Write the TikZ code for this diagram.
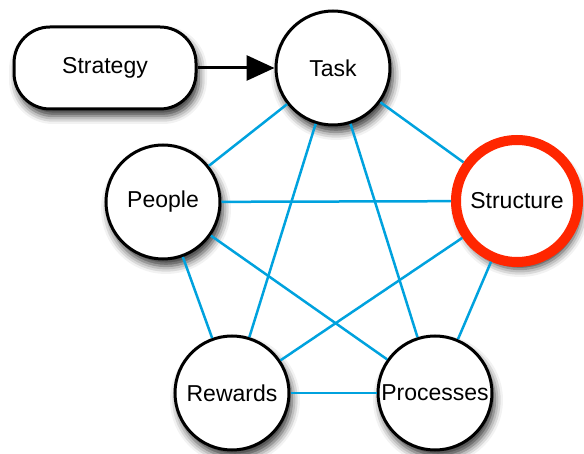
\documentclass[tikz,border=0pt]{standalone}
\usepackage{fontspec}
\setmainfont{Liberation Sans}
\usetikzlibrary{positioning,arrows.meta,shadows.blur}
\definecolor{linkblue}{RGB}{0,162,222}
\definecolor{ringred}{RGB}{255,38,0}
\tikzstyle{black state}=[
        draw = black,
        line width = 3pt,
        fill = white,
        minimum size = 114pt,
        inner sep = 0pt,
        circle,
        blur shadow = {shadow xshift=3pt, shadow yshift=-7pt, shadow blur radius=8pt, shadow opacity=80}
    ]
\tikzstyle{red state}=[
    draw = ringred,
    line width = 10pt,
    fill = white,
    minimum size = 122pt,
    inner sep = 0pt,
    circle,
    blur shadow = {shadow xshift=3pt, shadow yshift=-7pt, shadow blur radius=8pt, shadow opacity=80}
]
\tikzstyle{strategy box}=[
    draw = black,
    line width = 3pt,
    fill = white,
    rounded corners = 36pt,
    minimum width = 182pt,
    minimum height = 82pt,
    blur shadow = {shadow xshift=3pt, shadow yshift=-7pt, shadow blur radius=8pt, shadow opacity=80}
]
\tikzstyle{link}=[draw = linkblue, line width = 2.5pt]

\begin{document}
\begin{tikzpicture}[x=1pt, y=-1pt, on grid, font=\fontsize{23}{27}\selectfont]
        \useasboundingbox (0,0) rectangle (584,454);

        \node[black state] (task) at (333,68) {Task};
        \node[strategy box] (strategy) [left = 228pt of task] {Strategy};
        \node[black state] (people) [below left = 134pt and 170pt of task] {People};
        \node[red state] (structure) [below right = 133pt and 184pt of task] {Structure};
        \node[black state] (rewards) [below right = 191pt and 69pt of people] {Rewards};
        \node[black state] (processes) [right = 203pt of rewards] {Processes};

        \draw[-{Triangle[length=28pt,width=25pt]}, line width=3pt] (strategy) -- (task);

        % links
        \draw[link] (task) -- (people);
        \draw[link] (task) -- (structure);
        \draw[link] (task) -- (rewards);
        \draw[link] (task) -- (processes);
        \draw[link] (people) -- (structure);
        \draw[link] (people) -- (rewards);
        \draw[link] (people) -- (processes);
        \draw[link] (structure) -- (rewards);
        \draw[link] (structure) -- (processes);
        \draw[link] (rewards) -- (processes);

    \end{tikzpicture}
\end{document}
